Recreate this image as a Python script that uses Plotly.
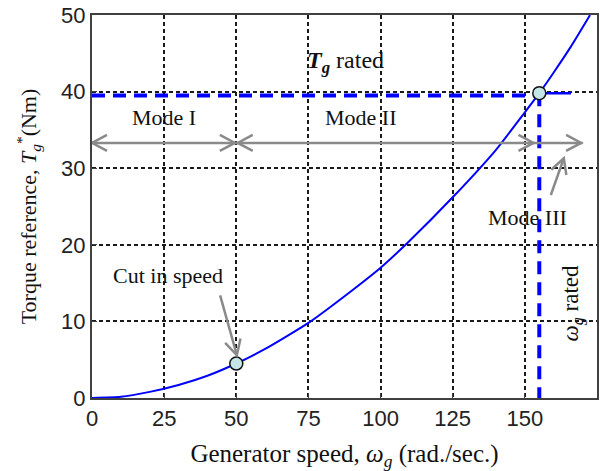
import math
import plotly.graph_objects as go

# ---- data ----
speed = [0, 10, 20, 30, 40, 50, 60, 75, 90, 100, 110, 125, 140, 150, 155, 160, 166, 172.6]
torque = [0, 0.15, 0.8, 1.7, 2.9, 4.5, 6.4, 9.8, 14.0, 17.0, 20.5, 26.2, 32.4, 37.3, 39.8, 42.5, 45.9, 50]

rated_speed = 155
rated_torque = 39.8
rated_dash_level = 39.5
rated_tail_end = 166
cut_in_speed = 50
cut_in_torque = 4.5

mode_level = 33.3
mode_line = [0, 170]
mode_tips = [(0, "left"), (49.5, "right"), (50.5, "left"), (153, "right"), (169.5, "right")]
mode_labels = ["Mode I", "Mode II", "Mode III"]
mode_label_pos = [(25, 36.6), (93, 36.6), (151, 23.6)]

x_ticks = [0, 25, 50, 75, 100, 125, 150, 175]
y_ticks = [0, 10, 20, 30, 40, 50]
x_range = [0, 175]
y_range = [0, 50]

# ---- layout geometry ----
W, H = 615, 471
ML, MR, MT, MB = 92, 18, 15, 73
PW, PH = W - ML - MR, H - MT - MB
px_x = PW / (x_range[1] - x_range[0])
px_y = PH / (y_range[1] - y_range[0])

SERIF = "Times New Roman, Liberation Serif, serif"
SANS = "Arial, Liberation Sans, sans-serif"
BLUE = "#0000ff"
GRAY = "#8a8a8a"

fig = go.Figure()

# main curve
fig.add_trace(go.Scatter(x=speed, y=torque, mode="lines",
                         line=dict(color=BLUE, width=2, shape="spline", smoothing=0.5),
                         hoverinfo="skip", showlegend=False))
# rated torque dashed line
fig.add_trace(go.Scatter(x=[0, rated_speed], y=[rated_dash_level, rated_dash_level], mode="lines",
                         line=dict(color=BLUE, width=4, dash="13px,8px"), showlegend=False))
# rated speed dashed line
fig.add_trace(go.Scatter(x=[rated_speed, rated_speed], y=[rated_torque, 0], mode="lines",
                         line=dict(color=BLUE, width=4, dash="13px,8px"), showlegend=False))
# short rated tail
fig.add_trace(go.Scatter(x=[rated_speed, rated_tail_end], y=[rated_torque, rated_torque], mode="lines",
                         line=dict(color=BLUE, width=2.5), showlegend=False))

shapes = []


def chevron(xt, yt, ang_deg, length=17, half=28):
    # ang_deg: direction the arrow points, in pixel space with y up
    a = math.radians(ang_deg)
    pts = []
    for s in (half, -half):
        b = a + math.pi + math.radians(s)
        pts.append((length * math.cos(b), length * math.sin(b)))
    path = "M{:.2f},{:.2f} L0,0 L{:.2f},{:.2f}".format(pts[0][0], pts[0][1], pts[1][0], pts[1][1])
    return dict(type="path", xref="x", yref="y", xsizemode="pixel", ysizemode="pixel",
                xanchor=xt, yanchor=yt, path=path, layer="above",
                line=dict(color=GRAY, width=2.5))


# mode double arrows
shapes.append(dict(type="line", xref="x", yref="y", x0=mode_line[0], x1=mode_line[1],
                   y0=mode_level, y1=mode_level, layer="above", line=dict(color=GRAY, width=2.5)))
for xt, d in mode_tips:
    shapes.append(chevron(xt, mode_level, 0 if d == "right" else 180))

# pointer arrows (tail -> tip)
pointers = [((44.4, 13.4), (50.2, 5.6)), ((159.0, 26.5), (163.5, 31.3))]
for (x0, y0), (x1, y1) in pointers:
    shapes.append(dict(type="line", xref="x", yref="y", x0=x0, y0=y0, x1=x1, y1=y1,
                       layer="above", line=dict(color=GRAY, width=2.5)))
    ang = math.degrees(math.atan2((y1 - y0) * px_y, (x1 - x0) * px_x))
    shapes.append(chevron(x1, y1, ang))

# circles
fig.add_trace(go.Scatter(x=[cut_in_speed, rated_speed], y=[cut_in_torque, rated_torque], mode="markers",
                         marker=dict(size=13, color="#c4e6e6", line=dict(color="#111111", width=1.5)),
                         showlegend=False))

annotations = []
for txt, (xa, ya) in zip(mode_labels, mode_label_pos):
    annotations.append(dict(x=xa, y=ya, xref="x", yref="y", text=txt, showarrow=False,
                            font=dict(family=SERIF, size=22, color="#111")))
annotations.append(dict(x=88, y=43.9, xref="x", yref="y",
                        text="<b><i>T<sub>g</sub></i></b> rated", showarrow=False,
                        font=dict(family=SERIF, size=24, color="#111")))
annotations.append(dict(x=26.4, y=16, xref="x", yref="y", text="Cut in speed", showarrow=False,
                        font=dict(family=SERIF, size=22, color="#111")))
annotations.append(dict(x=166.5, y=12.4, xref="x", yref="y", text="<i>ω<sub>g</sub></i> rated",
                        showarrow=False, textangle=-90,
                        font=dict(family=SERIF, size=23, color="#111")))

axis_common = dict(showline=True, linecolor="#404040", linewidth=2, mirror=True,
                   ticks="inside", ticklen=5, tickcolor="#404040", automargin=False,
                   showgrid=True, gridcolor="#1a1a1a", gridwidth=1.5, griddash="4px,3px",
                   zeroline=False, tickfont=dict(family=SANS, size=22, color="#222"))

fig.update_layout(
    width=W, height=H, margin=dict(l=ML, r=MR, t=MT, b=MB),
    paper_bgcolor="white", plot_bgcolor="white",
    shapes=shapes, annotations=annotations, showlegend=False,
    xaxis=dict(range=x_range, tickvals=x_ticks, **axis_common,
               title=dict(text="Generator speed, <i>ω<sub>g</sub></i> (rad./sec.)",
                          font=dict(family=SERIF, size=25, color="#111"), standoff=15)),
    yaxis=dict(range=y_range, tickvals=y_ticks, **axis_common,
               title=dict(text="Torque reference, <i>T<sub>g</sub></i><sup>*</sup>(Nm)",
                          font=dict(family=SERIF, size=22, color="#111"), standoff=18)),
)

fig.write_html("out.html")
